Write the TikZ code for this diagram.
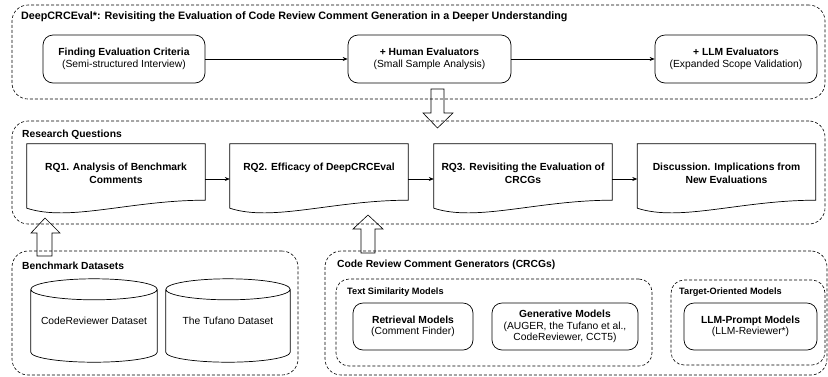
\documentclass[tikz,border=0pt]{standalone}
\usepackage{fontspec}
\setmainfont{Liberation Sans}
\usetikzlibrary{arrows.meta,calc,positioning}
\begin{document}
\begin{tikzpicture}[x=1pt,y=-1pt,
  every node/.style={font=\fontsize{10.3}{11.5}\selectfont, text=black},
  grp/.style={draw, line width=0.6pt, dash pattern=on 3pt off 2pt, rounded corners=16pt, inner sep=0pt},
  sgrp/.style={draw, line width=0.6pt, dash pattern=on 3pt off 2pt, rounded corners=13pt, inner sep=0pt},
  gtitle/.style={font=\fontsize{10.3}{11.5}\selectfont\bfseries, anchor=west, inner sep=0pt},
  stitle/.style={font=\fontsize{9.2}{10}\selectfont\bfseries, anchor=west, inner sep=0pt},
  proc/.style={draw, line width=0.7pt, rounded corners=10pt, align=center, inner sep=0pt},
  shapebox/.style={inner sep=0pt},
  rqtext/.style={font=\fontsize{10.3}{12.5}\selectfont\bfseries, align=center, anchor=north, inner sep=0pt},
  arr/.style={line width=0.6pt, -{Stealth[length=5pt,width=4pt]}},
  blockarr/.style={line width=0.6pt, line join=miter},
  docline/.style={draw, line width=0.7pt}
]
\useasboundingbox (0,0) rectangle (828,376);

% ---------- group 1 ----------
\node[grp, minimum width=813pt, minimum height=94pt] (g1) at (418.5,52) {};
\node[gtitle, font=\fontsize{10.75}{12}\selectfont\bfseries] (t1) at (21,17) {DeepCRCEval*: Revisiting the Evaluation of Code Review Comment Generation in a Deeper Understanding};
\node[proc, minimum width=162pt, minimum height=48pt] (n1) at (124,59) {\textbf{Finding Evaluation Criteria}\\(Semi-structured Interview)};
\node[proc, minimum width=163pt, minimum height=48pt] (n2) at (429.5,59) {\textbf{+ Human Evaluators}\\(Small Sample Analysis)};
\node[proc, minimum width=162pt, minimum height=48pt] (n3) at (736,59) {\textbf{+ LLM Evaluators}\\(Expanded Scope Validation)};
\draw[arr] (n1) -- (n2);
\draw[arr] (n2) -- (n3);

% ---------- group 2 ----------
\node[grp, minimum width=813pt, minimum height=103pt] (g2) at (418.5,172.5) {};
\node[gtitle] (t2) at (22,135) {Research Questions};
\foreach \nm/\cx in {rq1/116, rq2/319, rq3/523, rq4/726.5}{
  \node[shapebox, minimum width=178pt, minimum height=70pt] (\nm) at (\cx,179) {};
  \draw[docline] let \p1=(\nm.north west), \p2=(\nm.south east), \n1={\x2-\x1} in
    (\x1,\y1) -- (\x2,\y1) -- (\x2,\y2+14pt)
    .. controls (\x2-0.42*\n1,\y2+14pt) and (\x1+0.24*\n1,\y2-8pt) .. (\x1,\y2+6pt) -- cycle;
}
\node[rqtext] (rq1t) at ([yshift=-19.5pt]rq1.north) {RQ1. Analysis of Benchmark\\Comments};
\node[rqtext] (rq2t) at ([yshift=-19.5pt]rq2.north) {RQ2. Efficacy of DeepCRCEval};
\node[rqtext] (rq3t) at ([yshift=-19.5pt]rq3.north) {RQ3. Revisiting the Evaluation of\\CRCGs};
\node[rqtext] (rq4t) at ([yshift=-19.5pt]rq4.north) {Discussion. Implications from\\New Evaluations};
\draw[arr] (rq1) -- (rq2);
\draw[arr] (rq2) -- (rq3);
\draw[arr] (rq3) -- (rq4);

% ---------- group 3 ----------
\node[grp, minimum width=286pt, minimum height=124pt] (g3) at (155,313) {};
\node[gtitle] (t3) at (22,266) {Benchmark Datasets};
\foreach \nm/\cx/\w/\txt in {c1/94/126/CodeReviewer Dataset, c2/228/124/The Tufano Dataset}{
  \node[shapebox, minimum width=\w pt, minimum height=83pt] (\nm) at (\cx,320.5) {\txt};
  \draw[line width=0.7pt] let \p1=(\nm.north west), \p2=(\nm.south east), \n1={(\x2-\x1)/2} in
    (\x1,\y1-10.5pt) -- (\x1,\y2+10pt) arc[start angle=180, end angle=360, x radius={\n1}, y radius=10pt]
    -- (\x2,\y1-10.5pt)
    (\x1,\y1-10.5pt) arc[start angle=180, end angle=-180, x radius={\n1}, y radius=10.5pt];
}

% ---------- group 4 ----------
\node[grp, minimum width=502pt, minimum height=124pt] (g4) at (576,313) {};
\node[gtitle] (t4) at (337,265) {Code Review Comment Generators (CRCGs)};
\node[sgrp, minimum width=316pt, minimum height=87pt] (g5) at (494,322.5) {};
\node[stitle] (t5) at (347,292) {Text Similarity Models};
\node[sgrp, minimum width=154pt, minimum height=85pt] (g6) at (748,322.5) {};
\node[stitle] (t6) at (679,292) {Target-Oriented Models};
\node[proc, minimum width=120pt, minimum height=47pt] (m1) at (413,326.5) {\textbf{Retrieval Models}\\(Comment Finder)};
\node[proc, minimum width=146pt, minimum height=47pt] (m2) at (565,326.5) {\textbf{Generative Models}\\(AUGER, the Tufano et al.,\\CodeReviewer, CCT5)};
\node[proc, minimum width=133pt, minimum height=47pt] (m3) at (750.5,326.5) {\textbf{LLM-Prompt Models}\\(LLM-Reviewer*)};

% ---------- block arrows ----------
\draw[blockarr] (431,89) -- (444,89) -- (444,113) -- (453,113) -- (437.5,128) -- (423,113) -- (431,113) -- cycle;
\draw[blockarr] (37,256) -- (52,256) -- (52,233) -- (60,233) -- (45,218) -- (31,233) -- (37,233) -- cycle;
\draw[blockarr] (361,253) -- (375,253) -- (375,229) -- (383,229) -- (368,215) -- (353,229) -- (361,229) -- cycle;
\end{tikzpicture}
\end{document}
